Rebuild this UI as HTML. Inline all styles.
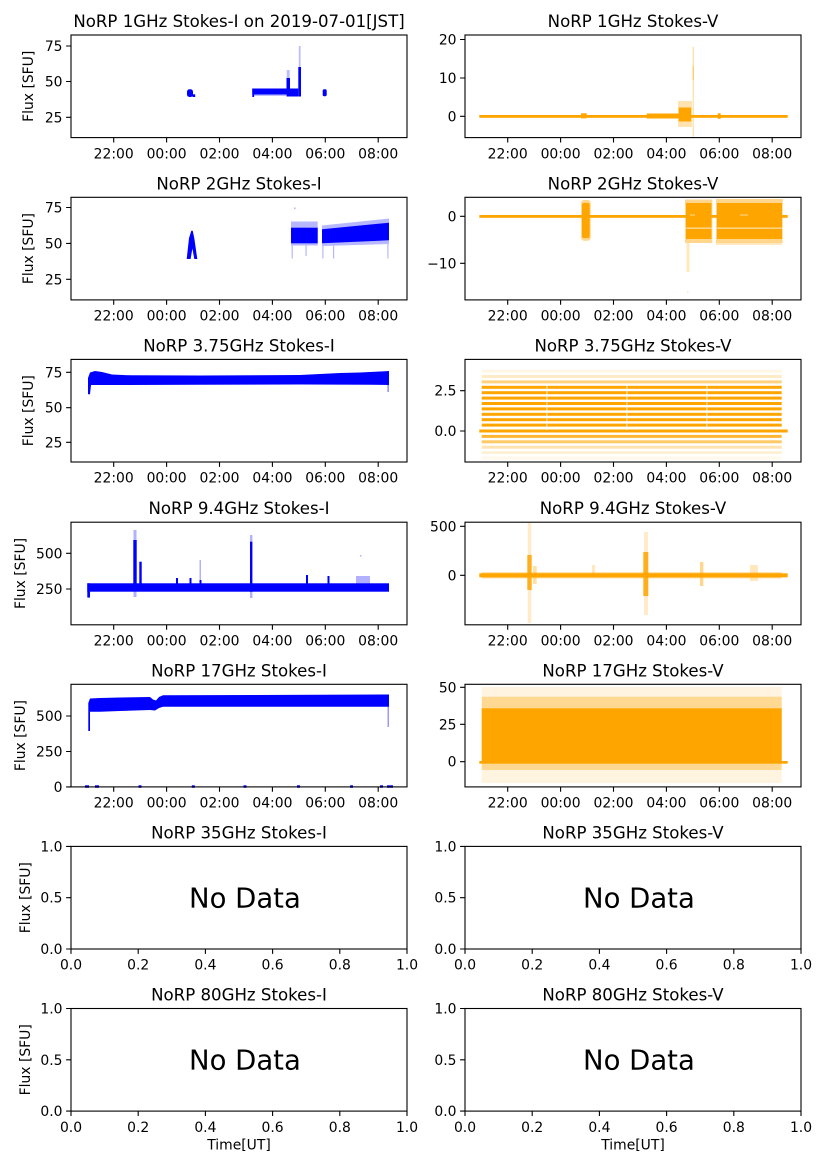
<!DOCTYPE html>
<html><head><meta charset="utf-8"><style>
html,body{margin:0;padding:0;background:#fff;}
svg{display:block;}
text{font-family:"DejaVu Sans","Liberation Sans",sans-serif;fill:#000;}
.t{font-size:16.6px;text-anchor:middle;}
.k{font-size:13.9px;}
.xk{font-size:13.9px;text-anchor:middle;}
.yk{font-size:13.9px;text-anchor:end;}
.nd{font-size:27.5px;text-anchor:start;}
</style></head><body>
<svg width="827" height="1169" viewBox="0 0 827 1169" xmlns="http://www.w3.org/2000/svg">
<rect width="827" height="1169" fill="#fff"/>

<!-- ================= ROW 0 ================= -->
<g fill="#00f">
<rect x="187" y="89.3" width="6" height="7.7" rx="2.5"/>
<rect x="192.5" y="94.3" width="2.7" height="2.7"/>
<rect x="252.3" y="88.5" width="34.5" height="6"/>
<rect x="252.3" y="88.5" width="1.8" height="8.5"/>
<rect x="286.5" y="78" width="3.5" height="18.5"/>
<rect x="290" y="88.5" width="8.3" height="8"/>
<rect x="298.3" y="67" width="2.7" height="29.5"/>
<rect x="322.7" y="89.3" width="4" height="7" rx="1.5"/>
</g>
<g fill="#00f" opacity=".25">
<rect x="286.7" y="70" width="3" height="8"/>
<rect x="298.8" y="46" width="1.8" height="21"/>
<rect x="254" y="94.5" width="32" height="1.5"/>
</g>

<g fill="#ffa500">
<rect x="479.3" y="115" width="308.4" height="2.8"/>
<rect x="581" y="113.3" width="5.7" height="5"/>
<rect x="646.7" y="113.5" width="32" height="5"/>
<rect x="678.7" y="107.5" width="12.5" height="14"/>
<rect x="717.7" y="113.3" width="3" height="5.5"/>
<rect x="678" y="101" width="14" height="26" opacity=".3"/>
<rect x="692.6" y="46.7" width="1.4" height="90" opacity=".3"/>
<rect x="692.6" y="66" width="1.4" height="14" opacity=".4"/>
</g>

<!-- ================= ROW 1 ================= -->
<g fill="#00f">
<path d="M186.7,259 L189,238.3 L191.3,230.7 L192.7,230.7 L194.3,238.3 L197.3,259 L194.3,259 L192.4,248.5 L190.6,259 Z"/>
<rect x="291" y="227.7" width="26.7" height="15.6"/>
<polygon points="322,229.3 389,222.7 389,240.3 322,243.3"/>
</g>
<g fill="#00f" opacity=".28">
<rect x="291" y="221.5" width="26.7" height="24"/>
<polygon points="322,225.5 389,218.5 389,244 322,246"/>
<rect x="291.6" y="243" width="1.2" height="15.5"/>
<rect x="305.5" y="243" width="1.2" height="13"/>
<rect x="294" y="207.5" width="1.6" height="1.6"/>
<rect x="322.3" y="243" width="1.2" height="15.5"/>
<rect x="333" y="243" width="1.2" height="15.5"/>
<rect x="387.3" y="240" width="1.2" height="18.5"/>
</g>

<g fill="#ffa500">
<rect x="479.3" y="215" width="308.4" height="2.8"/>
<g opacity=".45">
<rect x="581" y="200" width="9.7" height="40.7" rx="3"/>
<rect x="685" y="199.5" width="27.3" height="43.5"/>
<rect x="716" y="199" width="66.7" height="44"/>
</g>
<rect x="582" y="203" width="7.7" height="35" rx="2"/>
<rect x="686" y="203" width="25.5" height="36"/>
<rect x="717" y="203" width="65" height="36"/>
<g opacity=".25">
<rect x="686.5" y="243" width="3" height="29"/>
<rect x="687" y="291" width="1.5" height="1.5"/>
<rect x="716" y="243" width="66" height="2"/>
</g>
</g>
<g fill="#fff">
<rect x="686" y="227.7" width="25.5" height="0.8"/>
<rect x="717" y="227.7" width="65" height="0.8"/>
<rect x="690" y="214.7" width="5" height="0.6"/>
<rect x="740" y="214.7" width="8" height="0.6"/>
</g>

<!-- ================= ROW 2 ================= -->
<g fill="#00f">
<polygon points="88,378 90,372.5 95,371 102,372 112,374.5 130,375.3 200,375.5 300,375 320,374 340,373 360,372.5 380,371.5 389,371 389,385 370,384.8 300,384.5 200,384.8 100,385 91,385 90,394.3 88,394.3"/>
<rect x="387.3" y="385" width="1.7" height="7" opacity=".4"/>
</g>

<g fill="#ffa500">
<g>
<rect x="481.7" y="385.8" width="300" height="3"/>
<rect x="481.7" y="391.2" width="300" height="3"/>
<rect x="481.7" y="396.6" width="300" height="3"/>
<rect x="481.7" y="402" width="300" height="3"/>
<rect x="481.7" y="407.4" width="300" height="3"/>
<rect x="481.7" y="412.8" width="300" height="3"/>
<rect x="481.7" y="418.2" width="300" height="3"/>
<rect x="481.7" y="423.6" width="300" height="3"/>
<rect x="479.3" y="429.5" width="308.4" height="3"/>
</g>
<rect x="481.7" y="434.9" width="300" height="3" opacity=".8"/>
<rect x="481.7" y="440.3" width="300" height="3" opacity=".6"/>
<rect x="481.7" y="380.4" width="300" height="3" opacity=".5"/>
<rect x="481.7" y="375" width="300" height="3" opacity=".22"/>
<rect x="481.7" y="369.6" width="300" height="3" opacity=".1"/>
<rect x="481.7" y="445.7" width="300" height="3" opacity=".3"/>
<rect x="481.7" y="451.1" width="300" height="3" opacity=".16"/>
<rect x="481.7" y="456.5" width="300" height="3" opacity=".08"/>
</g>
<g fill="#fff" opacity=".8">
<rect x="546.4" y="384" width="1" height="46"/>
<rect x="626.4" y="384" width="1" height="46"/>
<rect x="706.4" y="384" width="1" height="46"/>
</g>

<!-- ================= ROW 3 ================= -->
<g fill="#00f">
<rect x="87.3" y="583.3" width="301.7" height="8.4"/>
<rect x="87.3" y="583.3" width="2.7" height="14.3"/>
<rect x="133.3" y="540" width="3.4" height="51"/>
<rect x="139.3" y="561.7" width="2.4" height="24"/>
<rect x="250" y="541.7" width="2.4" height="50"/>
<rect x="176" y="578" width="2" height="6"/>
<rect x="189.5" y="578" width="2" height="6"/>
<rect x="199.5" y="580" width="2" height="4"/>
<rect x="306" y="575" width="2" height="9"/>
<rect x="327.5" y="576" width="2" height="8"/>
</g>
<g fill="#00f" opacity=".3">
<rect x="133.5" y="530" width="3" height="10"/>
<rect x="133.5" y="591" width="3" height="6"/>
<rect x="250" y="535" width="2.4" height="7"/>
<rect x="250" y="591" width="2.4" height="7"/>
<rect x="356" y="576" width="14" height="8"/>
<rect x="199.5" y="560" width="1.5" height="20"/>
<rect x="360" y="555" width="1.5" height="1.5"/>
</g>

<g fill="#ffa500">
<rect x="479.3" y="573.3" width="308.4" height="4"/>
<rect x="481.7" y="572.3" width="300" height="6" opacity=".5"/>
<rect x="527.3" y="555" width="4.4" height="35" opacity=".85"/>
<rect x="527.8" y="523" width="3.4" height="100" opacity=".22"/>
<rect x="643.3" y="552" width="5" height="44" opacity=".85"/>
<rect x="644" y="532" width="4" height="83" opacity=".22"/>
<rect x="700" y="562" width="3.3" height="24" opacity=".45"/>
<rect x="533" y="566" width="3.7" height="18" opacity=".35"/>
<rect x="592" y="565" width="3" height="12" opacity=".25"/>
<rect x="750" y="565" width="8" height="16" opacity=".25"/>
</g>

<!-- ================= ROW 4 ================= -->
<g fill="#00f">
<polygon points="88.3,703 90,698.5 100,698 120,697.5 150,697 153,699.5 156,700.5 159,697 163,695.3 389,694.5 389,706.7 163,706.7 159,708 155,710.5 150,710 120,711 100,711.7 90,711.7 90,731 88.3,731"/>
<rect x="387.5" y="706" width="1.5" height="21" opacity=".4"/>
<rect x="85" y="785.3" width="4" height="2.5"/>
<rect x="95" y="785.3" width="4" height="2.5"/>
<rect x="138.5" y="785.3" width="3" height="2.5"/>
<rect x="191.8" y="785.3" width="3" height="2.5"/>
<rect x="243.5" y="785.3" width="3" height="2.5"/>
<rect x="297" y="785.3" width="3" height="2.5"/>
<rect x="350" y="785.3" width="3" height="2.5"/>
<rect x="380" y="785.3" width="3" height="2.5"/>
<rect x="387" y="785.3" width="6" height="2.5"/>
</g>

<g fill="#ffa500">
<rect x="481.7" y="687" width="300" height="96" opacity=".12"/>
<rect x="481.7" y="696.7" width="300" height="73.3" opacity=".35"/>
<rect x="481.7" y="708.3" width="300" height="53.4"/>
<rect x="479.3" y="761" width="308.4" height="2.7"/>
</g>

<!-- ================= ROWS 5/6 No Data ================= -->
<text class="nd" x="189" y="907.5">No Data</text>
<text class="nd" x="583" y="907.5">No Data</text>
<text class="nd" x="189" y="1069.6">No Data</text>
<text class="nd" x="583" y="1069.6">No Data</text>

<!-- ================= FRAMES ================= -->
<g fill="none" stroke="#000" stroke-width="1.1">
<rect x="71" y="35" width="336" height="102.6"/>
<rect x="465" y="35" width="336" height="102.6"/>
<rect x="71" y="197.3" width="336" height="102.6"/>
<rect x="465" y="197.3" width="336" height="102.6"/>
<rect x="71" y="359.4" width="336" height="102.6"/>
<rect x="465" y="359.4" width="336" height="102.6"/>
<rect x="71" y="522.2" width="336" height="102.6"/>
<rect x="465" y="522.2" width="336" height="102.6"/>
<rect x="71" y="684.3" width="336" height="102.6"/>
<rect x="465" y="684.3" width="336" height="102.6"/>
<rect x="71" y="846.4" width="336" height="102.6"/>
<rect x="465" y="846.4" width="336" height="102.6"/>
<rect x="71" y="1008.5" width="336" height="102.6"/>
<rect x="465" y="1008.5" width="336" height="102.6"/>
</g>

<!-- ================= TICKS ================= -->
<g stroke="#000" stroke-width="1.1" fill="none">
<path d="M113.7,137.6v4.9M166.6,137.6v4.9M219.5,137.6v4.9M272.4,137.6v4.9M325.3,137.6v4.9M378.2,137.6v4.9
M507.7,137.6v4.9M560.6,137.6v4.9M613.5,137.6v4.9M666.4,137.6v4.9M719.3,137.6v4.9M772.2,137.6v4.9
M113.7,299.9v4.9M166.6,299.9v4.9M219.5,299.9v4.9M272.4,299.9v4.9M325.3,299.9v4.9M378.2,299.9v4.9
M507.7,299.9v4.9M560.6,299.9v4.9M613.5,299.9v4.9M666.4,299.9v4.9M719.3,299.9v4.9M772.2,299.9v4.9
M113.7,462v4.9M166.6,462v4.9M219.5,462v4.9M272.4,462v4.9M325.3,462v4.9M378.2,462v4.9
M507.7,462v4.9M560.6,462v4.9M613.5,462v4.9M666.4,462v4.9M719.3,462v4.9M772.2,462v4.9
M113.7,624.8v4.9M166.6,624.8v4.9M219.5,624.8v4.9M272.4,624.8v4.9M325.3,624.8v4.9M378.2,624.8v4.9
M507.7,624.8v4.9M560.6,624.8v4.9M613.5,624.8v4.9M666.4,624.8v4.9M719.3,624.8v4.9M772.2,624.8v4.9
M113.7,786.9v4.9M166.6,786.9v4.9M219.5,786.9v4.9M272.4,786.9v4.9M325.3,786.9v4.9M378.2,786.9v4.9
M507.7,786.9v4.9M560.6,786.9v4.9M613.5,786.9v4.9M666.4,786.9v4.9M719.3,786.9v4.9M772.2,786.9v4.9"/>
<path d="M71,949v4.9M138.2,949v4.9M205.4,949v4.9M272.6,949v4.9M339.8,949v4.9M407,949v4.9
M465,949v4.9M532.2,949v4.9M599.4,949v4.9M666.6,949v4.9M733.8,949v4.9M801,949v4.9
M71,1111.1v4.9M138.2,1111.1v4.9M205.4,1111.1v4.9M272.6,1111.1v4.9M339.8,1111.1v4.9M407,1111.1v4.9
M465,1111.1v4.9M532.2,1111.1v4.9M599.4,1111.1v4.9M666.6,1111.1v4.9M733.8,1111.1v4.9M801,1111.1v4.9"/>
<path d="M66.1,46h4.9M66.1,81.5h4.9M66.1,117.3h4.9
M460.1,39.5h4.9M460.1,78h4.9M460.1,116.3h4.9
M66.1,207.5h4.9M66.1,243.4h4.9M66.1,279.3h4.9
M460.1,216.3h4.9M460.1,263.3h4.9
M66.1,372.3h4.9M66.1,407.7h4.9M66.1,442.3h4.9
M460.1,390.7h4.9M460.1,431h4.9
M66.1,553.3h4.9M66.1,589h4.9
M460.1,526.3h4.9M460.1,575.3h4.9
M66.1,716h4.9M66.1,751.5h4.9M66.1,786.9h4.9
M460.1,687.3h4.9M460.1,724.3h4.9M460.1,761.7h4.9
M66.1,846.4h4.9M66.1,897.7h4.9M66.1,949h4.9
M460.1,846.4h4.9M460.1,897.7h4.9M460.1,949h4.9
M66.1,1008.5h4.9M66.1,1059.8h4.9M66.1,1111.1h4.9
M460.1,1008.5h4.9M460.1,1059.8h4.9M460.1,1111.1h4.9"/>
</g>

<!-- ================= TITLES ================= -->
<text class="t" x="239" y="27">NoRP 1GHz Stokes-I on 2019-07-01[JST]</text>
<text class="t" x="633" y="27">NoRP 1GHz Stokes-V</text>
<text class="t" x="239" y="189.3">NoRP 2GHz Stokes-I</text>
<text class="t" x="633" y="189.3">NoRP 2GHz Stokes-V</text>
<text class="t" x="239" y="351.4">NoRP 3.75GHz Stokes-I</text>
<text class="t" x="633" y="351.4">NoRP 3.75GHz Stokes-V</text>
<text class="t" x="239" y="514.2">NoRP 9.4GHz Stokes-I</text>
<text class="t" x="633" y="514.2">NoRP 9.4GHz Stokes-V</text>
<text class="t" x="239" y="676.3">NoRP 17GHz Stokes-I</text>
<text class="t" x="633" y="676.3">NoRP 17GHz Stokes-V</text>
<text class="t" x="239" y="838.4">NoRP 35GHz Stokes-I</text>
<text class="t" x="633" y="838.4">NoRP 35GHz Stokes-V</text>
<text class="t" x="239" y="1000.5">NoRP 80GHz Stokes-I</text>
<text class="t" x="633" y="1000.5">NoRP 80GHz Stokes-V</text>

<!-- ================= X TICK LABELS ================= -->
<g class="xk">
<text class="xk" x="113.7" y="158.3">22:00</text><text class="xk" x="166.6" y="158.3">00:00</text><text class="xk" x="219.5" y="158.3">02:00</text><text class="xk" x="272.4" y="158.3">04:00</text><text class="xk" x="325.3" y="158.3">06:00</text><text class="xk" x="378.2" y="158.3">08:00</text>
<text class="xk" x="507.7" y="158.3">22:00</text><text class="xk" x="560.6" y="158.3">00:00</text><text class="xk" x="613.5" y="158.3">02:00</text><text class="xk" x="666.4" y="158.3">04:00</text><text class="xk" x="719.3" y="158.3">06:00</text><text class="xk" x="772.2" y="158.3">08:00</text>

<text class="xk" x="113.7" y="320.6">22:00</text><text class="xk" x="166.6" y="320.6">00:00</text><text class="xk" x="219.5" y="320.6">02:00</text><text class="xk" x="272.4" y="320.6">04:00</text><text class="xk" x="325.3" y="320.6">06:00</text><text class="xk" x="378.2" y="320.6">08:00</text>
<text class="xk" x="507.7" y="320.6">22:00</text><text class="xk" x="560.6" y="320.6">00:00</text><text class="xk" x="613.5" y="320.6">02:00</text><text class="xk" x="666.4" y="320.6">04:00</text><text class="xk" x="719.3" y="320.6">06:00</text><text class="xk" x="772.2" y="320.6">08:00</text>

<text class="xk" x="113.7" y="482.7">22:00</text><text class="xk" x="166.6" y="482.7">00:00</text><text class="xk" x="219.5" y="482.7">02:00</text><text class="xk" x="272.4" y="482.7">04:00</text><text class="xk" x="325.3" y="482.7">06:00</text><text class="xk" x="378.2" y="482.7">08:00</text>
<text class="xk" x="507.7" y="482.7">22:00</text><text class="xk" x="560.6" y="482.7">00:00</text><text class="xk" x="613.5" y="482.7">02:00</text><text class="xk" x="666.4" y="482.7">04:00</text><text class="xk" x="719.3" y="482.7">06:00</text><text class="xk" x="772.2" y="482.7">08:00</text>

<text class="xk" x="113.7" y="645.5">22:00</text><text class="xk" x="166.6" y="645.5">00:00</text><text class="xk" x="219.5" y="645.5">02:00</text><text class="xk" x="272.4" y="645.5">04:00</text><text class="xk" x="325.3" y="645.5">06:00</text><text class="xk" x="378.2" y="645.5">08:00</text>
<text class="xk" x="507.7" y="645.5">22:00</text><text class="xk" x="560.6" y="645.5">00:00</text><text class="xk" x="613.5" y="645.5">02:00</text><text class="xk" x="666.4" y="645.5">04:00</text><text class="xk" x="719.3" y="645.5">06:00</text><text class="xk" x="772.2" y="645.5">08:00</text>

<text class="xk" x="113.7" y="807.6">22:00</text><text class="xk" x="166.6" y="807.6">00:00</text><text class="xk" x="219.5" y="807.6">02:00</text><text class="xk" x="272.4" y="807.6">04:00</text><text class="xk" x="325.3" y="807.6">06:00</text><text class="xk" x="378.2" y="807.6">08:00</text>
<text class="xk" x="507.7" y="807.6">22:00</text><text class="xk" x="560.6" y="807.6">00:00</text><text class="xk" x="613.5" y="807.6">02:00</text><text class="xk" x="666.4" y="807.6">04:00</text><text class="xk" x="719.3" y="807.6">06:00</text><text class="xk" x="772.2" y="807.6">08:00</text>

<text class="xk" x="71" y="969.7">0.0</text><text class="xk" x="138.2" y="969.7">0.2</text><text class="xk" x="205.4" y="969.7">0.4</text><text class="xk" x="272.6" y="969.7">0.6</text><text class="xk" x="339.8" y="969.7">0.8</text><text class="xk" x="407" y="969.7">1.0</text>
<text class="xk" x="465" y="969.7">0.0</text><text class="xk" x="532.2" y="969.7">0.2</text><text class="xk" x="599.4" y="969.7">0.4</text><text class="xk" x="666.6" y="969.7">0.6</text><text class="xk" x="733.8" y="969.7">0.8</text><text class="xk" x="801" y="969.7">1.0</text>

<text class="xk" x="71" y="1131.8">0.0</text><text class="xk" x="138.2" y="1131.8">0.2</text><text class="xk" x="205.4" y="1131.8">0.4</text><text class="xk" x="272.6" y="1131.8">0.6</text><text class="xk" x="339.8" y="1131.8">0.8</text><text class="xk" x="407" y="1131.8">1.0</text>
<text class="xk" x="465" y="1131.8">0.0</text><text class="xk" x="532.2" y="1131.8">0.2</text><text class="xk" x="599.4" y="1131.8">0.4</text><text class="xk" x="666.6" y="1131.8">0.6</text><text class="xk" x="733.8" y="1131.8">0.8</text><text class="xk" x="801" y="1131.8">1.0</text>
</g>

<!-- ================= Y TICK LABELS ================= -->
<text class="yk" x="62.5" y="51">75</text><text class="yk" x="62.5" y="86.5">50</text><text class="yk" x="62.5" y="122.3">25</text>
<text class="yk" x="456.5" y="44.5">20</text><text class="yk" x="456.5" y="83">10</text><text class="yk" x="456.5" y="121.3">0</text>

<text class="yk" x="62.5" y="212.5">75</text><text class="yk" x="62.5" y="248.4">50</text><text class="yk" x="62.5" y="284.3">25</text>
<text class="yk" x="456.5" y="221.3">0</text><text class="yk" x="456.5" y="268.3">−10</text>

<text class="yk" x="62.5" y="377.3">75</text><text class="yk" x="62.5" y="412.7">50</text><text class="yk" x="62.5" y="447.3">25</text>
<text class="yk" x="456.5" y="395.7">2.5</text><text class="yk" x="456.5" y="436">0.0</text>

<text class="yk" x="62.5" y="558.3">500</text><text class="yk" x="62.5" y="594">250</text>
<text class="yk" x="456.5" y="531.3">500</text><text class="yk" x="456.5" y="580.3">0</text>

<text class="yk" x="62.5" y="721">500</text><text class="yk" x="62.5" y="756.5">250</text><text class="yk" x="62.5" y="791.9">0</text>
<text class="yk" x="456.5" y="692.3">50</text><text class="yk" x="456.5" y="729.3">25</text><text class="yk" x="456.5" y="766.7">0</text>

<text class="yk" x="62.5" y="851.4">1.0</text><text class="yk" x="62.5" y="902.7">0.5</text><text class="yk" x="62.5" y="954">0.0</text>
<text class="yk" x="456.5" y="851.4">1.0</text><text class="yk" x="456.5" y="902.7">0.5</text><text class="yk" x="456.5" y="954">0.0</text>

<text class="yk" x="62.5" y="1013.5">1.0</text><text class="yk" x="62.5" y="1064.8">0.5</text><text class="yk" x="62.5" y="1116.1">0.0</text>
<text class="yk" x="456.5" y="1013.5">1.0</text><text class="yk" x="456.5" y="1064.8">0.5</text><text class="yk" x="456.5" y="1116.1">0.0</text>

<!-- ================= Y LABELS ================= -->
<text class="k" text-anchor="middle" transform="translate(33.2,86.3) rotate(-90)">Flux [SFU]</text>
<text class="k" text-anchor="middle" transform="translate(33.2,248.6) rotate(-90)">Flux [SFU]</text>
<text class="k" text-anchor="middle" transform="translate(33.2,410.7) rotate(-90)">Flux [SFU]</text>
<text class="k" text-anchor="middle" transform="translate(25,573.5) rotate(-90)">Flux [SFU]</text>
<text class="k" text-anchor="middle" transform="translate(25,735.6) rotate(-90)">Flux [SFU]</text>
<text class="k" text-anchor="middle" transform="translate(30,897.7) rotate(-90)">Flux [SFU]</text>
<text class="k" text-anchor="middle" transform="translate(30,1059.8) rotate(-90)">Flux [SFU]</text>

<!-- ================= X LABELS ================= -->
<text class="xk" x="239" y="1149.5">Time[UT]</text>
<text class="xk" x="633" y="1149.5">Time[UT]</text>
</svg>
</body></html>
